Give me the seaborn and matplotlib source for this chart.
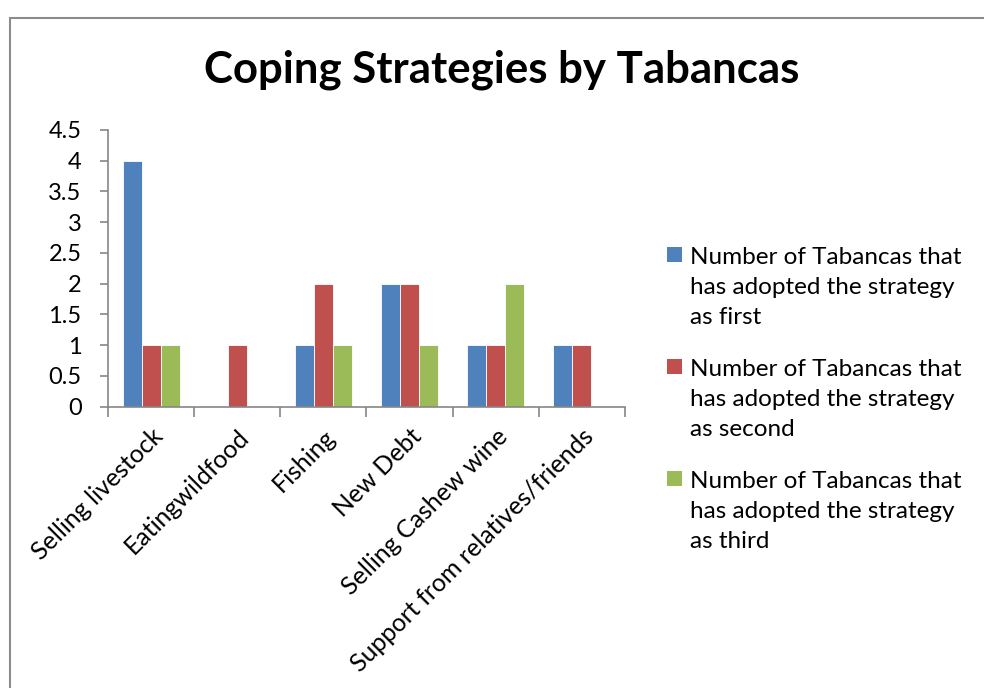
import matplotlib
matplotlib.use("Agg")
import matplotlib.pyplot as plt
import matplotlib.transforms as mtransforms
import seaborn as sns
import pandas as pd
import numpy as np
from matplotlib.patches import Rectangle

categories = ["Selling livestock", "Eatingwildfood", "Fishing", "New Debt",
              "Selling Cashew wine", "Support from relatives/friends"]
first = [4, 0, 1, 2, 1, 1]
second = [1, 1, 2, 2, 1, 1]
third = [1, 0, 1, 1, 2, 0]
series_names = [
    "Number of Tabancas that\nhas adopted the strategy\nas first",
    "Number of Tabancas that\nhas adopted the strategy\nas second",
    "Number of Tabancas that\nhas adopted the strategy\nas third",
]
colors = ["#4F81BD", "#C0504D", "#9BBB59"]
yticks = [0, 0.5, 1, 1.5, 2, 2.5, 3, 3.5, 4, 4.5]
ytick_labels = ["0", "0.5", "1", "1.5", "2", "2.5", "3", "3.5", "4", "4.5"]

rows = []
for name, vals in zip(series_names, [first, second, third]):
    for c, v in zip(categories, vals):
        rows.append({"Strategy": c, "Count": v, "Series": name})
df = pd.DataFrame(rows)

sns.set_theme(style="white")
plt.rcParams["font.family"] = ["Lato", "DejaVu Sans"]
plt.rcParams["text.color"] = "black"
plt.rcParams["xtick.color"] = "black"
plt.rcParams["ytick.color"] = "black"

fig = plt.figure(figsize=(9.84, 6.88), dpi=100)
ax = fig.add_axes([108/984, 1-406.7/688, (625-108)/984, (406.7-130)/688])

sns.barplot(data=df, x="Strategy", y="Count", hue="Series", order=categories,
            hue_order=series_names, palette=colors, width=0.663, ax=ax,
            edgecolor="white", linewidth=0.6, legend=False, saturation=1)

ax.set_ylim(0, 4.5)
ax.set_xlim(-0.5, len(categories) - 0.5)
ax.set_yticks(yticks)
ax.set_yticklabels(ytick_labels, fontsize=17)
ax.set_xticks(range(len(categories)))
ax.set_xticklabels(categories, rotation=45, ha="right", rotation_mode="anchor",
                   fontsize=18)
offset = mtransforms.ScaledTranslation(5/100, 0, fig.dpi_scale_trans)
for lbl in ax.get_xticklabels():
    lbl.set_transform(lbl.get_transform() + offset)
ax.set_xticks(np.arange(-0.5, len(categories)), minor=True)
ax.tick_params(axis="x", which="major", length=0, pad=13)
ax.tick_params(axis="x", which="minor", length=7, color="#868686", width=1.2,
               direction="out", bottom=True)
ax.tick_params(axis="y", length=6, color="#868686", width=1.2, direction="out",
               left=True, pad=13)
ax.set_xlabel("")
ax.set_ylabel("")
for s in ["top", "right"]:
    ax.spines[s].set_visible(False)
for s in ["left", "bottom"]:
    ax.spines[s].set_color("#868686")
    ax.spines[s].set_linewidth(1.2)

fig.text(502/984, 1-70/688, "Coping Strategies by Tabancas", ha="center",
         va="center", fontsize=31.5, fontweight="bold", color="black")

# legend (manual, handle aligned with first text line as in the reference)
legend_tops = [247, 359, 471]
for name, col, top in zip(series_names, colors, legend_tops):
    fig.patches.append(Rectangle((667/984, 1-(top+15)/688), 15/984, 15/688,
                                 transform=fig.transFigure, facecolor=col,
                                 edgecolor="none"))
    fig.text(690/984, 1-top/688, name, ha="left", va="top", fontsize=17.5,
             linespacing=1.52)

fig.patches.append(Rectangle((10/984, -0.1), 1.2, 1.1 - 18/688,
                             transform=fig.transFigure, fill=False,
                             edgecolor="#8C8C8C", linewidth=1.5))

fig.savefig("out.png", dpi=100)
